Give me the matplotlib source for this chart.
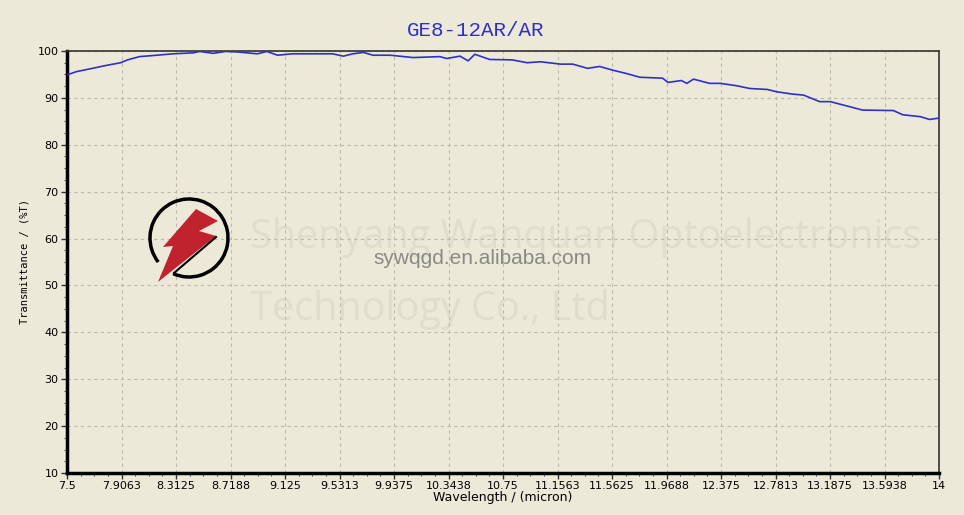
import matplotlib.pyplot as plt
import numpy as np
from matplotlib.patches import Arc, Polygon

# measured transmittance curve
wavelength = [7.50, 7.57, 7.69, 7.77, 7.90, 7.95, 8.04, 8.17, 8.29, 8.44, 8.49, 8.59, 8.68, 8.77,
              8.92, 8.99, 9.07, 9.18, 9.33, 9.48, 9.56, 9.63, 9.71, 9.78, 9.91, 10.08, 10.28, 10.33,
              10.43, 10.49, 10.54, 10.65, 10.82, 10.93, 11.03, 11.18, 11.27, 11.38, 11.47, 11.57,
              11.67, 11.77, 11.94, 11.98, 12.08, 12.12, 12.17, 12.29, 12.37, 12.49, 12.59, 12.72,
              12.79, 12.91, 12.99, 13.11, 13.19, 13.31, 13.43, 13.66, 13.73, 13.86, 13.93, 14.00]
transmittance = [94.9, 95.6, 96.3, 96.8, 97.5, 98.1, 98.8, 99.1, 99.4, 99.6, 99.9, 99.5, 99.9, 99.8,
                 99.4, 99.9, 99.1, 99.4, 99.4, 99.4, 98.9, 99.4, 99.7, 99.1, 99.1, 98.6, 98.8, 98.4,
                 98.9, 97.9, 99.3, 98.2, 98.1, 97.5, 97.7, 97.2, 97.2, 96.3, 96.7, 95.9,
                 95.2, 94.4, 94.2, 93.3, 93.7, 93.1, 94.0, 93.1, 93.1, 92.6, 92.0, 91.8,
                 91.3, 90.8, 90.6, 89.2, 89.2, 88.3, 87.4, 87.3, 86.4, 86.0, 85.4, 85.7]

xticks = [7.5, 7.9063, 8.3125, 8.7188, 9.125, 9.5313, 9.9375, 10.3438, 10.75,
          11.1563, 11.5625, 11.9688, 12.375, 12.7813, 13.1875, 13.5938, 14]
xtick_labels = ['7.5', '7.9063', '8.3125', '8.7188', '9.125', '9.5313', '9.9375', '10.3438', '10.75',
                '11.1563', '11.5625', '11.9688', '12.375', '12.7813', '13.1875', '13.5938', '14']
yticks = [10, 20, 30, 40, 50, 60, 70, 80, 90, 100]

bg = '#ECE9D8'
fig = plt.figure(figsize=(9.64, 5.15), dpi=100, facecolor=bg)
ax = fig.add_axes([67/964, 42/515, 872/964, 422/515], facecolor=bg)

ax.plot(wavelength, transmittance, color='#3030c8', linewidth=1.2, zorder=3)

ax.set_xlim(7.5, 14)
ax.set_ylim(10, 100)
ax.set_xticks(xticks)
ax.set_xticklabels(xtick_labels, fontsize=8, family='DejaVu Sans')
ax.set_yticks(yticks)
ax.set_yticklabels([str(v) for v in yticks], fontsize=8, family='DejaVu Sans')
ax.set_xticks(np.arange(7.5, 14.01, 6.5 / 64), minor=True)
ax.set_yticks(np.arange(10, 100.1, 2.5), minor=True)
ax.tick_params(which='major', direction='out', length=4, width=1, color='#333333', pad=2)
ax.tick_params(which='minor', direction='out', length=2, width=0.8, color='#555555')

ax.grid(True, which='major', linestyle=(0, (3, 3)), color='#bdbaac', linewidth=0.8)
for side in ['left', 'bottom']:
    ax.spines[side].set_linewidth(2.5)
    ax.spines[side].set_color('black')
for side in ['top', 'right']:
    ax.spines[side].set_linewidth(1.2)
    ax.spines[side].set_color('#333333')

ax.set_xlabel('Wavelength / (micron)', fontsize=9, family='DejaVu Sans', labelpad=0)
ax.set_ylabel('Transmittance / (%T)', fontsize=7.5, family='DejaVu Sans Mono', labelpad=6)
fig.text(476/964, 1 - 30/515, 'GE8-12AR/AR', color='#3030c8', fontsize=15,
         family='Liberation Mono', ha='center', va='center')

# watermark text
ax.text(250/964, 1 - 238/515, 'Shenyang Wanquan Optoelectronics', transform=fig.transFigure,
        fontsize=28.5, color='#e0ddcc', family='Open Sans', ha='left', va='center', zorder=1)
ax.text(250/964, 1 - 310/515, 'Technology Co., Ltd', transform=fig.transFigure,
        fontsize=28.5, color='#e0ddcc', family='Open Sans', ha='left', va='center', zorder=1)
ax.text(483/964, 1 - 258/515, 'sywqgd.en.alibaba.com', transform=fig.transFigure,
        fontsize=15, color='#8a8a85', family='Liberation Sans', ha='center', va='center', zorder=2)

# logo
lg = fig.add_axes([(189 - 45)/964, (515 - 238 - 45)/515, 90/964, 90/515])
lg.set_xlim(-45, 45)
lg.set_ylim(-45, 45)
lg.axis('off')
lg.add_patch(Arc((0, 0), 78, 78, theta1=246, theta2=578, color='black', linewidth=2.5))
bolt = [(7, 29), (29, 17), (10, 7), (27, 2), (-16, -32), (-31, -44), (-16, -8), (-26, -9)]
lg.add_patch(Polygon(bolt, closed=True, facecolor='#c0222e', edgecolor='none'))
lg.plot([-15, 27], [-35, 1], color='black', linewidth=1.5)

plt.savefig('out.png', dpi=100, facecolor=bg)
